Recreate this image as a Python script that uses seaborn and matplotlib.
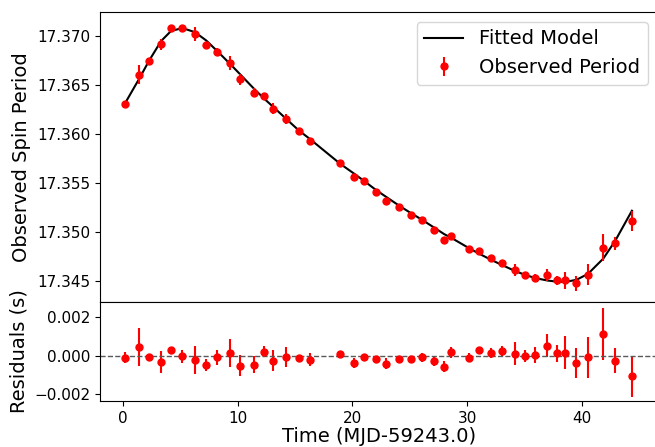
import numpy as np
import pandas as pd
import matplotlib
matplotlib.use("Agg")
import matplotlib.pyplot as plt
import seaborn as sns

# time (days since MJD 59243.0)
t = [0.23, 1.45, 2.30, 3.34, 4.21, 5.20, 6.28, 7.26, 8.25, 9.36,
     10.23, 11.39, 12.27, 13.05, 14.21, 15.32, 16.28, 18.95, 20.12, 21.01,
     22.06, 22.93, 24.07, 25.08, 26.04, 27.14, 28.01, 28.62, 30.19, 31.05,
     32.06, 33.04, 34.20, 35.07, 35.95, 36.97, 37.81, 38.54, 39.52, 40.51,
     41.85, 42.89, 44.35]

# observed spin period
period = [17.36308, 17.36603, 17.36742, 17.36912, 17.37075, 17.37075, 17.37014, 17.36905, 17.36834, 17.36725,
          17.36556, 17.36420, 17.36386, 17.36257, 17.36149, 17.36027, 17.35931, 17.35707, 17.35562, 17.35518,
          17.35412, 17.35320, 17.35253, 17.35178, 17.35121, 17.35019, 17.34923, 17.34961, 17.34826, 17.34810,
          17.34734, 17.34689, 17.34615, 17.34564, 17.34537, 17.34561, 17.34510, 17.34510, 17.34479, 17.34567,
          17.34843, 17.34887, 17.35113]

# fitted model at the same times
model = [17.36317, 17.36565, 17.36746, 17.36945, 17.37048, 17.37077, 17.37036, 17.36952, 17.36841, 17.36711,
         17.36606, 17.36465, 17.36364, 17.36281, 17.36156, 17.36037, 17.35950, 17.35695, 17.35598, 17.35522,
         17.35429, 17.35360, 17.35270, 17.35195, 17.35128, 17.35045, 17.34979, 17.34942, 17.34835, 17.34780,
         17.34720, 17.34665, 17.34603, 17.34564, 17.34532, 17.34508, 17.34496, 17.34493, 17.34515, 17.34574,
         17.34730, 17.34911, 17.35218]

# 1-sigma uncertainty
err = [0.00028, 0.00099, 0.00012, 0.00056, 0.00012, 0.00035, 0.00073, 0.00032, 0.00040, 0.00073,
       0.00056, 0.00045, 0.00030, 0.00055, 0.00052, 0.00012, 0.00032, 0.00012, 0.00026, 0.00012,
       0.00012, 0.00027, 0.00012, 0.00012, 0.00023, 0.00028, 0.00030, 0.00028, 0.00023, 0.00012,
       0.00026, 0.00030, 0.00060, 0.00029, 0.00040, 0.00059, 0.00043, 0.00084, 0.00076, 0.00105,
       0.00134, 0.00067, 0.00106]

# residuals (observed - model)
resid = [-0.00009, 0.00045, -0.00004, -0.00033, 0.00031, -0.00002, -0.00022, -0.00047, -0.00007, 0.00014,
         -0.00050, -0.00045, 0.00022, -0.00024, -0.00007, -0.00010, -0.00019, 0.00012, -0.00036, -0.00004,
         -0.00017, -0.00040, -0.00017, -0.00017, -0.00007, -0.00026, -0.00056, 0.00019, -0.00009, 0.00030,
         0.00014, 0.00024, 0.00012, 0.00000, 0.00005, 0.00053, 0.00014, 0.00017, -0.00036, -0.00007,
         0.00113, -0.00024, -0.00105]

df = pd.DataFrame({"t": t, "period": period, "model": model, "err": err, "resid": resid})

fig = plt.figure(figsize=(6.55, 4.47), dpi=100)
ax1 = fig.add_axes([100 / 655, 0.3244, 557.3 / 655, 0.6488])
ax2 = fig.add_axes([100 / 655, 0.1029, 557.3 / 655, 0.2215], sharex=ax1)

sns.lineplot(data=df, x="t", y="model", color="black", lw=1.5, ax=ax1, label="Fitted Model")
ax1.errorbar(df["t"], df["period"], yerr=df["err"], fmt="o", color="red", ms=5,
             elinewidth=1.5, label="Observed Period")
ax1.set_ylabel("Observed Spin Period", fontsize=14)
ax1.set_xlabel("")
ax1.set_ylim(17.34289, 17.37241)
ax1.set_yticks([17.345, 17.350, 17.355, 17.360, 17.365, 17.370])
ax1.tick_params(labelbottom=False, labelsize=11)
ax1.legend(fontsize=14, loc="upper right")

ax2.errorbar(df["t"], df["resid"], yerr=df["err"], fmt="o", color="red", ms=5, elinewidth=1.5)
ax2.axhline(0, color="0.35", ls="--", lw=1)
ax2.set_ylim(-0.00234, 0.0028)
ax2.set_yticks([-0.002, 0.0, 0.002])
ax2.set_xlim(-1.98, 46.56)
ax2.set_xticks([0, 10, 20, 30, 40])
ax2.tick_params(labelsize=11)
ax2.set_xlabel("Time (MJD-59243.0)", fontsize=14, labelpad=1)
ax2.set_ylabel("Residuals (s)", fontsize=14)

fig.align_ylabels([ax1, ax2])
plt.savefig("out.png", dpi=100)
